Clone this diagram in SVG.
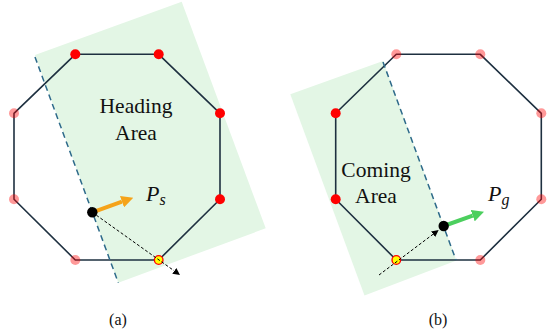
<svg xmlns="http://www.w3.org/2000/svg" width="547" height="335" viewBox="0 0 547 335">
<defs>
<style>
.area{fill:#e3f6e5;stroke:none}
.oct{fill:none;stroke:#1e3040;stroke-width:1.6;stroke-linejoin:round}
.bound{stroke:#2d6a8a;stroke-width:1.5;stroke-dasharray:6 4;fill:none}
.on{fill:#ff0000}
.off{fill:#ff0000;fill-opacity:0.4}
.hit{fill:#ffff00;stroke:#ff0000;stroke-width:1.3}
.pt{fill:#000}
.ray{stroke:#000;stroke-width:1;stroke-dasharray:3 2;fill:none}
.lbl{font-family:"Liberation Serif","Times New Roman",serif;font-size:21.5px;fill:#111;text-anchor:middle}
.sym{font-family:"Liberation Serif","Times New Roman",serif;font-style:italic;font-size:22px;fill:#111}
.cap{font-family:"Liberation Serif","Times New Roman",serif;font-size:16px;fill:#111;text-anchor:middle}
</style>
<marker id="hOrange" viewBox="0 0 10 10" refX="0" refY="5" markerWidth="12" markerHeight="12" markerUnits="userSpaceOnUse" orient="auto"><path d="M0,0 L10,5 L0,10 z" fill="#f5a31a"/></marker>
<marker id="hGreen" viewBox="0 0 10 10" refX="0" refY="5" markerWidth="12" markerHeight="12" markerUnits="userSpaceOnUse" orient="auto"><path d="M0,0 L10,5 L0,10 z" fill="#4ccf5e"/></marker>
<marker id="hBlack" viewBox="0 0 10 10" refX="0" refY="5" markerWidth="7" markerHeight="7" markerUnits="userSpaceOnUse" orient="auto"><path d="M0,0 L10,5 L0,10 z" fill="#000"/></marker>
</defs>

<!-- (a) -->
<g id="panel-a">
<polygon id="heading-area" class="area" points="35,55 181.7,1.7 265.7,228.3 118.3,282.7"/>
<polygon id="octagon-a" class="oct" points="75.3,54.3 158.7,54.3 220,113.3 220,199.3 158.7,260 75.3,260 14,199.3 14,113.3"/>
<g id="verts-a">
<circle class="on" cx="75.3" cy="54.3" r="5"/>
<circle class="on" cx="158.7" cy="54.3" r="5"/>
<circle class="on" cx="220" cy="113.3" r="5"/>
<circle class="on" cx="220" cy="199.3" r="5"/>
<circle class="off" cx="75.3" cy="260" r="5"/>
<circle class="off" cx="14" cy="199.3" r="5"/>
<circle class="off" cx="14" cy="113.3" r="5"/>
<circle class="hit" cx="158.7" cy="260" r="4.3"/>
</g>
<g id="label-heading">
<text class="lbl" x="136" y="113">Heading</text>
<text class="lbl" x="136" y="140">Area</text>
</g>
<text id="label-ps" class="sym" x="146" y="201">P<tspan font-size="16" dy="4">s</tspan></text>
<text id="cap-a" class="cap" x="118" y="325">(a)</text>
</g>

<!-- (b) -->
<g id="panel-b">
<polygon id="coming-area" class="area" points="290.3,94.3 383,61 456.5,260.5 364.5,295.5"/>
<polygon id="octagon-b" class="oct" points="396.3,54.3 480.3,54.3 541.3,113.3 541.3,199.3 480.3,260 396.3,260 335.7,199.3 335.7,113.3"/>
<g id="verts-b">
<circle class="off" cx="396.3" cy="54.3" r="5"/>
<circle class="off" cx="480.3" cy="54.3" r="5"/>
<circle class="off" cx="541.3" cy="113.3" r="5"/>
<circle class="off" cx="541.3" cy="199.3" r="5"/>
<circle class="off" cx="480.3" cy="260" r="5"/>
<circle class="on" cx="335.7" cy="199.3" r="5"/>
<circle class="on" cx="335.7" cy="113.3" r="5"/>
<circle class="hit" cx="396.3" cy="260" r="4.3"/>
</g>
<g id="label-coming">
<text class="lbl" x="376" y="177">Coming</text>
<text class="lbl" x="376" y="203">Area</text>
</g>
<text id="label-pg" class="sym" x="488" y="201">P<tspan font-size="16" dy="4">g</tspan></text>
<text id="cap-b" class="cap" x="438" y="325">(b)</text>
</g>

<g id="connectors">
<line class="bound" x1="35" y1="57" x2="118.3" y2="282.7"/>
<line class="bound" x1="383" y1="62" x2="456" y2="260"/>
<line class="ray" x1="92.3" y1="212.3" x2="174.3" y2="270.9" marker-end="url(#hBlack)"/>
<line class="ray" x1="379" y1="275" x2="433.1" y2="234.2" marker-end="url(#hBlack)"/>
<line x1="92.3" y1="212.3" x2="122" y2="201.7" stroke="#f5a31a" stroke-width="4" marker-end="url(#hOrange)"/>
<line x1="443.7" y1="226" x2="472.7" y2="215.7" stroke="#4ccf5e" stroke-width="4" marker-end="url(#hGreen)"/>
</g>
<circle id="ps-point" class="pt" cx="92.3" cy="212.3" r="5.2"/>
<circle id="pg-point" class="pt" cx="443.7" cy="226" r="5.2"/>
</svg>
